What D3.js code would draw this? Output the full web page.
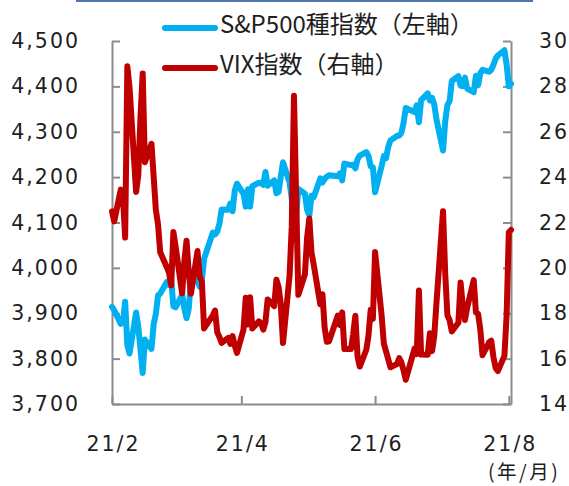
<!DOCTYPE html>
<html>
<head>
<meta charset="utf-8">
<script src="https://cdn.jsdelivr.net/npm/d3@7"></script>
<style>
  body { margin: 0; background: #fff; }
</style>
</head>
<body>
<svg id="chart" width="569" height="486"></svg>
<script>
const dates = [
  "2021-02-18","2021-02-19","2021-02-22","2021-02-23","2021-02-24","2021-02-25","2021-02-26",
  "2021-03-01","2021-03-02","2021-03-03","2021-03-04","2021-03-05","2021-03-08","2021-03-09","2021-03-10","2021-03-11","2021-03-12",
  "2021-03-15","2021-03-16","2021-03-17","2021-03-18","2021-03-19","2021-03-22","2021-03-23","2021-03-24","2021-03-25","2021-03-26",
  "2021-03-29","2021-03-30","2021-03-31",
  "2021-04-01","2021-04-05","2021-04-06","2021-04-07","2021-04-08","2021-04-09","2021-04-12","2021-04-13","2021-04-14","2021-04-15",
  "2021-04-16","2021-04-19","2021-04-20","2021-04-21","2021-04-22","2021-04-23","2021-04-26","2021-04-27","2021-04-28","2021-04-29","2021-04-30",
  "2021-05-03","2021-05-04","2021-05-05","2021-05-06","2021-05-07","2021-05-10","2021-05-11","2021-05-12","2021-05-13","2021-05-14",
  "2021-05-17","2021-05-18","2021-05-19","2021-05-20","2021-05-21","2021-05-24","2021-05-25","2021-05-26","2021-05-27","2021-05-28",
  "2021-06-01","2021-06-02","2021-06-03","2021-06-04","2021-06-07","2021-06-08","2021-06-09","2021-06-10","2021-06-11","2021-06-14",
  "2021-06-15","2021-06-16","2021-06-17","2021-06-18","2021-06-21","2021-06-22","2021-06-23","2021-06-24","2021-06-25","2021-06-28","2021-06-29","2021-06-30",
  "2021-07-01","2021-07-02","2021-07-06","2021-07-07","2021-07-08","2021-07-09","2021-07-12","2021-07-13","2021-07-14","2021-07-15",
  "2021-07-16","2021-07-19","2021-07-20","2021-07-21","2021-07-22","2021-07-23","2021-07-26","2021-07-27","2021-07-28","2021-07-29","2021-07-30",
  "2021-08-02","2021-08-03","2021-08-04","2021-08-05","2021-08-06","2021-08-09","2021-08-10","2021-08-11","2021-08-12","2021-08-13",
  "2021-08-16","2021-08-17","2021-08-18","2021-08-19"
];

// S&P500 (left axis)
const sp500 = [
  3914.0, 3906.7, 3876.5, 3881.4, 3925.4, 3829.3, 3811.2,
  3901.8, 3870.3, 3819.7, 3768.5, 3841.9, 3821.4, 3875.4, 3898.8, 3939.3, 3943.3,
  3968.9, 3962.7, 3974.1, 3915.5, 3913.1, 3940.6, 3910.5, 3889.1, 3909.5, 3974.5,
  3971.1, 3958.6, 3972.9,
  4019.9, 4077.9, 4073.9, 4080.0, 4097.2, 4128.8, 4128.0, 4141.6, 4124.7, 4170.4,
  4185.5, 4163.3, 4134.9, 4173.4, 4135.0, 4180.2, 4187.6, 4186.7, 4183.2, 4211.5, 4181.2,
  4192.7, 4164.7, 4167.6, 4201.6, 4232.6, 4188.4, 4152.1, 4063.0, 4112.5, 4173.9,
  4163.3, 4127.8, 4115.7, 4159.1, 4155.9, 4197.1, 4188.1, 4196.0, 4200.9, 4204.1,
  4202.0, 4208.1, 4192.9, 4229.9, 4226.5, 4227.3, 4219.6, 4239.2, 4247.4, 4255.2,
  4246.6, 4223.7, 4221.9, 4166.5, 4224.8, 4246.4, 4241.8, 4266.5, 4280.7, 4290.6, 4291.8, 4297.5,
  4319.9, 4352.3, 4343.5, 4358.1, 4320.8, 4369.6, 4384.6, 4369.2, 4374.3, 4360.0,
  4327.2, 4258.5, 4323.1, 4358.7, 4367.5, 4411.8, 4422.3, 4401.5, 4400.6, 4419.2, 4395.3,
  4387.2, 4423.2, 4402.7, 4429.1, 4436.5, 4432.4, 4436.8, 4447.7, 4460.8, 4468.0,
  4479.7, 4448.1, 4400.3, 4405.8
];

// VIX (right axis)
const vix = [
  22.49, 22.05, 23.45, 23.11, 21.34, 28.89, 27.95,
  23.35, 24.10, 26.67, 28.57, 24.66, 25.47, 24.03, 22.56, 21.91, 20.69,
  20.03, 19.79, 19.23, 21.58, 20.95, 18.88, 20.30, 21.20, 19.81, 18.86,
  20.74, 19.61, 19.40,
  17.33, 17.91, 18.12, 17.16, 16.95, 16.69, 16.91, 16.65, 16.99, 16.57,
  16.25, 17.29, 18.68, 17.50, 18.71, 17.33, 17.64, 17.56, 17.28, 17.61, 18.61,
  18.31, 19.48, 19.15, 18.39, 16.69, 19.66, 21.84, 27.59, 23.13, 18.81,
  19.72, 21.34, 22.18, 20.67, 20.15, 18.40, 18.84, 17.36, 16.74, 16.76,
  17.90, 17.48, 18.04, 16.42, 16.42, 17.07, 17.89, 16.10, 15.65, 16.39,
  17.02, 18.15, 17.75, 20.70, 17.89, 16.66, 16.32, 15.97, 15.62, 15.76, 16.02, 15.83,
  15.48, 15.07, 16.44, 16.20, 19.00, 16.18, 16.17, 17.12, 16.33, 17.01,
  18.45, 22.50, 19.73, 17.91, 17.69, 17.20, 17.58, 19.36, 18.31, 17.70, 18.24,
  19.46, 18.04, 17.97, 17.28, 16.15, 16.72, 16.79, 16.06, 15.59, 15.45,
  16.12, 17.91, 21.57, 21.67
];

const leftTicks = [3700, 3800, 3900, 4000, 4100, 4200, 4300, 4400, 4500];
const rightTicks = [14, 16, 18, 20, 22, 24, 26, 28, 30];
const xTickDates = ["2021-02-18", "2021-04-18", "2021-06-18", "2021-08-18"];
const xTickLabels = ["21/2", "21/4", "21/6", "21/8"];
const seriesNames = ["S&P500種指数（左軸）", "VIX指数（右軸）"];
const seriesColors = ["#00b0f0", "#c00000"];

const parse = d3.timeParse("%Y-%m-%d");
const data = dates.map((d, i) => ({ date: parse(d), sp: sp500[i], vix: vix[i] }));

const svg = d3.select("#chart");
const plotLeft = 112, plotRight = 511, plotTop = 41, plotBottom = 404;
const axisColor = "#8c8c8c";
const tickFont = "'DejaVu Sans', Verdana, sans-serif";
const jpFont = "'Noto Sans CJK JP', 'DejaVu Sans', sans-serif";

const x = d3.scaleTime()
    .domain([parse("2021-02-18"), parse("2021-08-19")])
    .range([plotLeft, plotRight]);

const yL = d3.scaleLinear().domain([3700, 4500]).range([plotBottom, plotTop]);
const yR = d3.scaleLinear().domain([14, 30]).range([plotBottom, plotTop]);

// top border strip
svg.append("line")
   .attr("x1", 76).attr("x2", 533)
   .attr("y1", 1).attr("y2", 1)
   .attr("stroke", "#5177b0")
   .attr("stroke-width", 2);

const styleAxis = (g) => {
    g.select(".domain").attr("stroke", axisColor).attr("stroke-width", 2);
    g.selectAll(".tick line").attr("stroke", axisColor).attr("stroke-width", 2);
    g.selectAll(".tick text")
     .attr("fill", "#1e1e1e")
     .style("font-family", tickFont)
     .style("font-size", "20.5px")
     .style("letter-spacing", "2px");
};

svg.append("g")
   .attr("transform", `translate(${plotLeft},0)`)
   .call(d3.axisLeft(yL).tickValues(leftTicks).tickSize(-8).tickSizeOuter(0).tickPadding(32)
          .tickFormat(d3.format(",")))
   .call(styleAxis);

svg.append("g")
   .attr("transform", `translate(${plotRight},0)`)
   .call(d3.axisRight(yR).tickValues(rightTicks).tickSize(-8).tickSizeOuter(0).tickPadding(28))
   .call(styleAxis);

svg.append("g")
   .attr("transform", `translate(0,${plotBottom})`)
   .call(d3.axisBottom(x).tickValues(xTickDates.map(parse)).tickSize(-8).tickSizeOuter(0).tickPadding(32)
          .tickFormat((d, i) => xTickLabels[i]))
   .call(styleAxis)
   .selectAll(".tick text")
   .attr("dx", "1px");

// unit note under the last x label
svg.append("text")
   .attr("x", 488)
   .attr("y", 479)
   .attr("fill", "#1e1e1e")
   .style("font-family", jpFont)
   .style("font-size", "19.5px")
   .style("letter-spacing", "2.5px")
   .text("(年/月)");

// lines
const lineSp = d3.line().x(d => x(d.date)).y(d => yL(d.sp));
const lineVix = d3.line().x(d => x(d.date)).y(d => yR(d.vix));

svg.append("path")
   .datum(data)
   .attr("d", lineSp)
   .attr("fill", "none")
   .attr("stroke", seriesColors[0])
   .attr("stroke-width", 6)
   .attr("stroke-linejoin", "round")
   .attr("stroke-linecap", "round");

svg.append("path")
   .datum(data)
   .attr("d", lineVix)
   .attr("fill", "none")
   .attr("stroke", seriesColors[1])
   .attr("stroke-width", 6)
   .attr("stroke-linejoin", "round")
   .attr("stroke-linecap", "round");

// legend
const legend = svg.append("g").attr("class", "legend");
seriesNames.forEach((name, i) => {
    const ly = 28 + i * 40;
    legend.append("line")
          .attr("x1", 165).attr("x2", 215)
          .attr("y1", ly).attr("y2", ly)
          .attr("stroke", seriesColors[i])
          .attr("stroke-width", 6)
          .attr("stroke-linecap", "round");
    legend.append("text")
          .attr("x", 220)
          .attr("y", 33 + i * 40)
          .attr("fill", "#1e1e1e")
          .style("font-family", jpFont)
          .style("font-size", "24px")
          .text(name);
});
</script>
</body>
</html>
